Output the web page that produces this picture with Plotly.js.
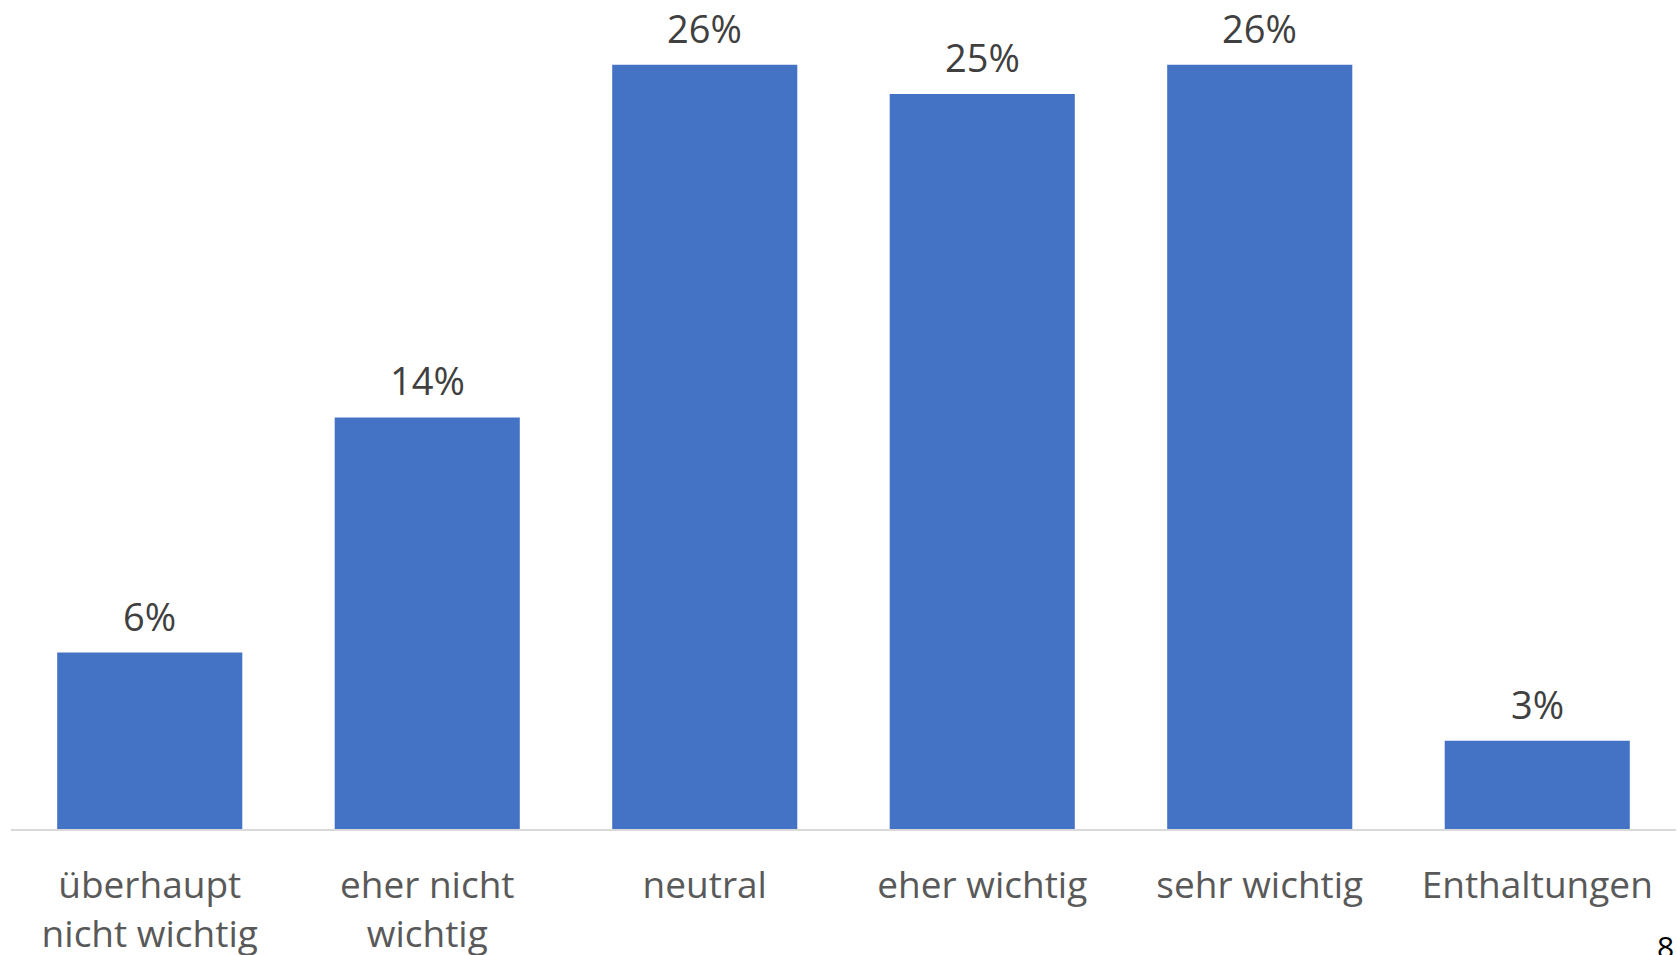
<!DOCTYPE html>
<html>
<head>
<meta charset="utf-8">
<script src="https://cdn.plot.ly/plotly-3.0.1.min.js"></script>
<style>html,body{margin:0;padding:0;background:#fff;overflow:hidden}#chart{width:1677px;height:955px}</style>
</head>
<body>
<div id="chart"></div>
<script>
const categories = ["überhaupt<br>nicht wichtig", "eher nicht<br>wichtig", "neutral", "eher wichtig", "sehr wichtig", "Enthaltungen"];
const values = [6, 14, 26, 25, 26, 3];
const valueLabels = ["6%", "14%", "26%", "25%", "26%", "3%"];
const pageNumber = "8";

const trace = {
  type: "bar",
  x: categories,
  y: values,
  marker: {color: "#4472C4"},
  hoverinfo: "none"
};

const annotations = categories.map((c, i) => ({
  x: c, y: values[i], xref: "x", yref: "y",
  text: valueLabels[i], showarrow: false,
  yanchor: "bottom", yshift: 9,
  font: {family: "Open Sans", size: 38, color: "#404040"}
}));
annotations.push({
  xref: "paper", yref: "paper", x: 1.0, y: -0.115, xanchor: "right", yanchor: "top",
  text: pageNumber, showarrow: false,
  font: {family: "Open Sans", size: 30, color: "#000"}
});

const layout = {
  width: 1677, height: 955,
  margin: {l: 11, r: 1, t: 0, b: 126},
  paper_bgcolor: "#fff", plot_bgcolor: "#fff",
  bargap: 0.333,
  showlegend: false,
  xaxis: {
    showline: true, linecolor: "#D9D9D9", linewidth: 2,
    ticks: "", showgrid: false, zeroline: false,
    tickfont: {family: "Open Sans", size: 37, color: "#595959"},
    ticklabelstandoff: 23,
    fixedrange: true
  },
  yaxis: {
    range: [0, 28.2], visible: false, showgrid: false, zeroline: false, fixedrange: true
  },
  annotations: annotations
};

Plotly.newPlot("chart", [trace], layout, {displayModeBar: false, staticPlot: true});
</script>
</body>
</html>
